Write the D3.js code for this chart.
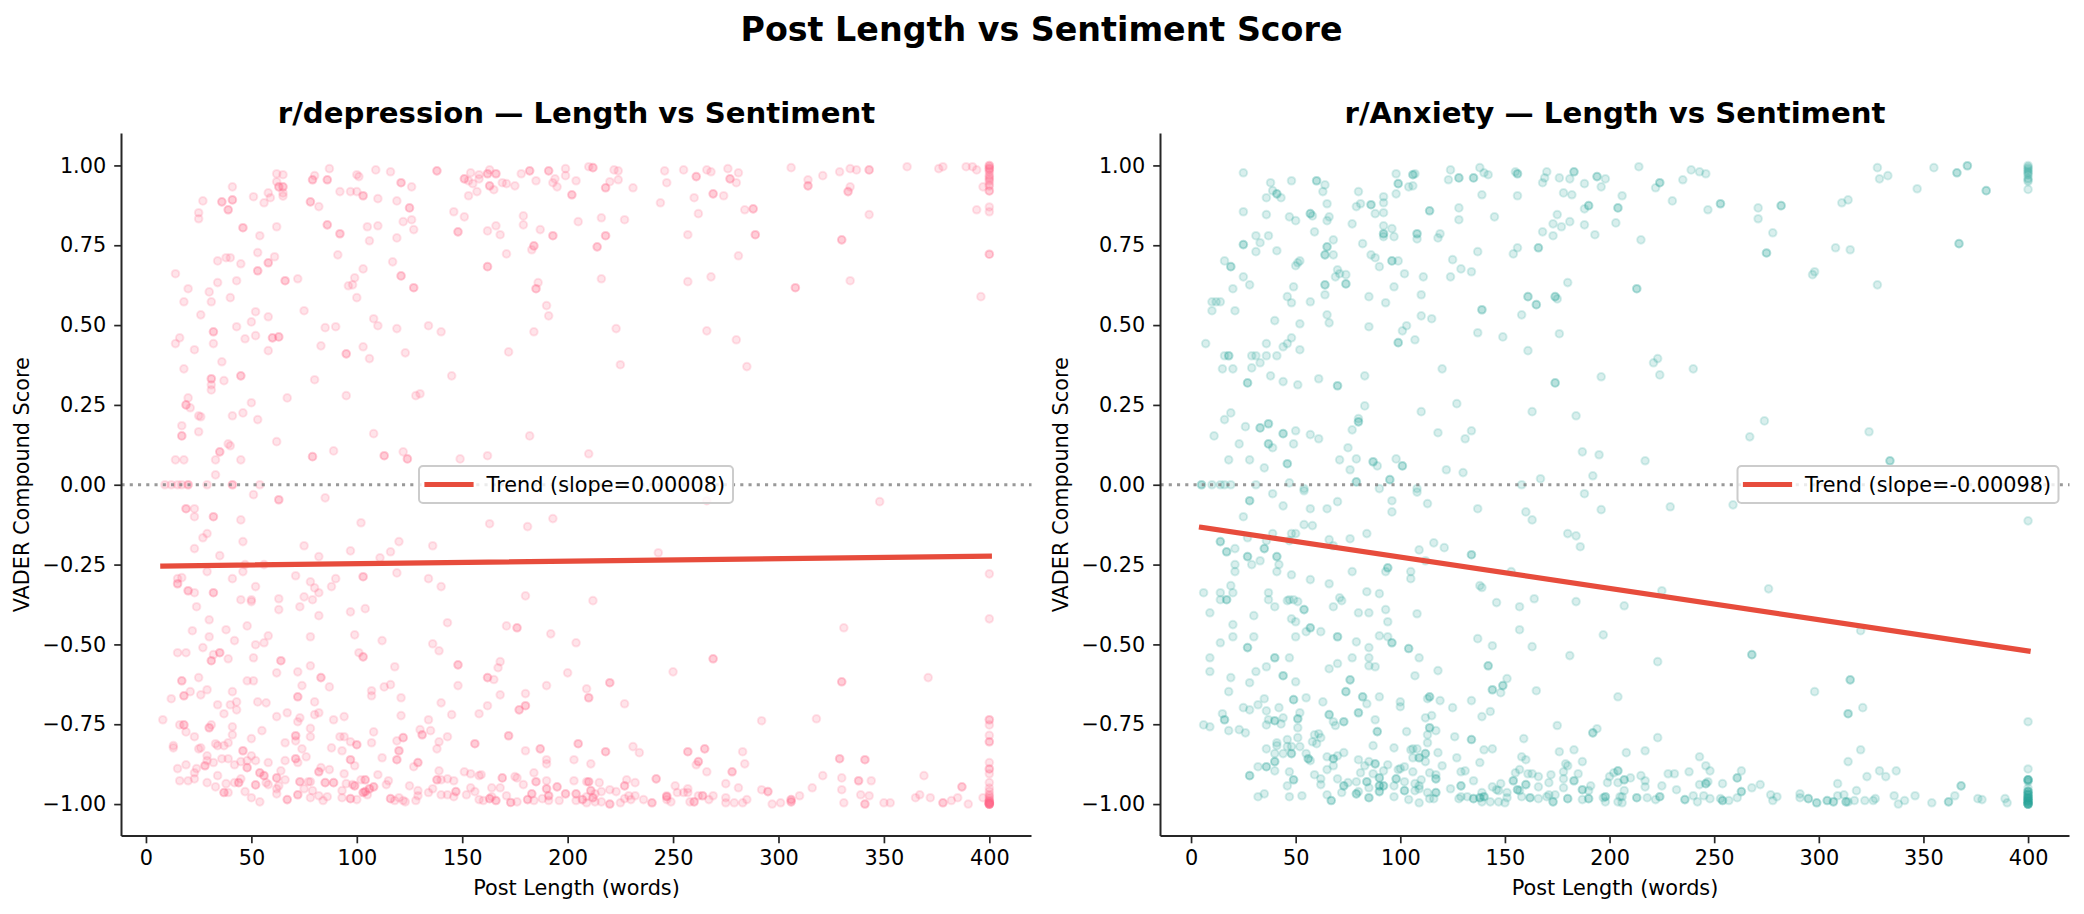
<!DOCTYPE html>
<html>
<head>
<meta charset="utf-8">
<script src="https://cdn.jsdelivr.net/npm/d3@7"></script>
<style>
  html, body { margin: 0; padding: 0; background: #fff; }
  svg { display: block; }
  text { font-family: "DejaVu Sans", sans-serif; fill: #000; }
</style>
</head>
<body>
<svg id="chart" width="2084" height="914"></svg>
<script>
// Posts as [word count, VADER compound score]; the "Doubled" lists hold posts that share a spot with a twin.
const depressionPosts = [
[62,.974],[65,.971],[87,.99],[109,.986],[116,.98],[80,.968],[100,.971],[101,.965],[126,.933],[62,.949],[41,.933],[154,.977],[153,.952],[155,.943],[158,.971],[158,.958],[163,.986],[165,.924],[169,.946],[171,.943],[175,.936],[178,.974],[185,.952],[199,.99],[199,.968],[194,.958],[193,.946],[195,.933],[204,.952],[157,.918],[153,.905],[92,.918],[97,.918],[100,.918],[110,.896],[119,.889],[82,.871],[65,.914],[65,.904],[58,.914],[59,.899],[56,.883],[51,.902],[27,.889],[25,.852],[25,.833],[54,.78],[62,.808],[105,.808],[110,.811],[106,.764],[119,.773],[122,.824],[126,.83],[127,.799],[146,.855],[151,.839],[162,.795],[166,.811],[168,.783],[179,.842],[179,.814],[187,.799],[205,.824],[183,.736],[171,.723],[186,.633],[190,.561],[191,.529],[184,.479],[172,.416],[182,.153],[162,.091],[149,.081],[145,.341],[140,.479],[134,.498],[119,.489],[110,.498],[108,.52],[90,.495],[85,.492],[75,.545],[58,.526],[52,.542],[50,.51],[43,.495],[16,.46],[14,.442],[32,.442],[47,.457],[52,.467],[23,.423],[58,.42],[83,.435],[103,.432],[106,.395],[123,.413],[36,.385],[18,.363],[31,.313],[31,.297],[37,.326],[80,.329],[95,.279],[67,.272],[50,.257],[20,.272],[21,.241],[25,.216],[26,.213],[41,.216],[46,.225],[53,.204],[17,.185],[25,.166],[39,.128],[40,.122],[62,.135],[108,.16],[128,.279],[130,.285],[89,.106],[122,.103],[14,.078],[18,.078],[33,.078],[45,.078],[33,.031],
[9,0],[12,0],[15,0],[17,0],[29,0],[54,0],
[34,.701],[38,.711],[40,.711],[45,.692],[53,.727],[61,.714],[34,.633],[43,.639],[72,.645],[14,.661],[20,.614],[30,.604],[18,.573],[31,.573],[40,.586],[26,.532],[91,.72],[103,.676],[99,.648],[96,.623],[98,.626],[100,.586],[117,.698],
[210,.996],[222,.986],[224,.983],[224,.955],[220,.949],[231,.93],[246,.983],[247,.946],[255,.986],[266,.986],[268,.98],[276,.99],[281,.977],[280,.946],[306,.993],[314,.955],[321,.968],[329,.98],[334,.99],[337,.986],[361,.996],[376,.99],[378,.996],[389,.996],[392,.996],[394,.986],[334,.933],[397,.933],
[400,1],[400,1],[400,.995],[400,.99],[400,.99],[400,.985],[400,.98],[400,.97],[400,.965],[400,.96],[400,.955],[400,.95],[400,.94],[400,.935],[400,.87],[400,.855],[394,.861],[396,.589],
[244,.883],[260,.899],[274,.905],[262,.849],[284,.861],[343,.846],[216,.836],[227,.83],[257,.783],[281,.717],[216,.645],[257,.636],[268,.651],[334,.639],[223,.489],[266,.482],[280,.454],[225,.376],[285,.37],[210,.097],
[51,-.031],[85,-.041],[23,-.075],[23,-.1],[45,-.11],[102,-.119],[163,-.122],[181,-.131],[193,-.106],[29,-.153],[27,-.166],[23,-.2],[46,-.178],[75,-.191],[120,-.178],[116,-.21],[97,-.207],[136,-.191],[35,-.222],[82,-.225],[111,-.229],[47,-.25],[56,-.25],[29,-.272],[46,-.272],[119,-.276],[15,-.294],[17,-.291],[41,-.294],[71,-.285],[78,-.304],[90,-.294],[134,-.294],[140,-.319],[88,-.319],[80,-.323],[52,-.319],[23,-.338],[82,-.338],[180,-.348],[45,-.36],[50,-.36],[50,-.366],[63,-.357],[75,-.351],[79,-.36],[24,-.382],[63,-.391],[73,-.382],[104,-.388],[97,-.398],[82,-.41],[30,-.423],[48,-.442],[143,-.432],[171,-.442],[22,-.457],[38,-.454],[30,-.476],[58,-.473],[42,-.488],[56,-.495],[52,-.501],[78,-.476],[99,-.47],[112,-.488],[192,-.467],[204,-.495],[27,-.51],[136,-.498],[139,-.52],[15,-.526],[19,-.526],[32,-.532],[39,-.545],[51,-.542],[101,-.526],[168,-.554],[167,-.573],[118,-.57],[78,-.567],[62,-.589],[72,-.586],[200,-.589],[165,-.61],[25,-.604],[48,-.614],[51,-.614],[74,-.629],[87,-.633],[148,-.629],[190,-.629],[113,-.633],[116,-.626],[29,-.642],[21,-.648],[26,-.658],[41,-.648],[107,-.645],[107,-.661],[168,-.658],[180,-.654],[121,-.667],[12,-.67],[80,-.68],[34,-.689],[40,-.689],[43,-.68],[53,-.68],[57,-.683],[140,-.683],[162,-.692],[43,-.705],[37,-.717],[67,-.714],[80,-.72],[82,-.714],[62,-.726],[94,-.726],[121,-.723],[145,-.72],[158,-.717],[8,-.736],[73,-.73],[72,-.742],[89,-.736],[134,-.736],[16,-.752],[31,-.752],[41,-.758],[55,-.77],[78,-.763],[19,-.774],[130,-.767],[135,-.77],[108,-.774],[23,-.789],[41,-.783],[50,-.795],[78,-.789],[92,-.789],[94,-.789],[143,-.789],[119,-.802],[139,-.805],[66,-.808],[71,-.802],[97,-.805],[107,-.808],[13,-.817],[13,-.824],[33,-.811],[34,-.817],[37,-.817],[39,-.808],[25,-.827],[26,-.824],[74,-.827],[88,-.824],[93,-.833],[138,-.827],[180,-.833],[29,-.849],[50,-.849],[76,-.852],[112,-.855],[190,-.861],[203,-.861],[36,-.858],[39,-.858],[29,-.864],[32,-.87],[45,-.867],[48,-.864],[52,-.864],[42,-.877],[72,-.87],[58,-.87],[66,-.864],[19,-.877],[190,-.874],[127,-.883],[99,-.88],[24,-.889],[15,-.889],[64,-.896],[83,-.886],[87,-.892],[139,-.896],[151,-.899],[154,-.905],[158,-.911],[159,-.908],[184,-.902],[23,-.902],[94,-.905],[110,-.908],[34,-.911],[175,-.914],[176,-.918],[203,-.927],[23,-.921],[16,-.927],[20,-.927],[45,-.921],[66,-.924],[102,-.924],[143,-.921],[140,-.924],[77,-.93],[78,-.93],[115,-.927],[146,-.927],[190,-.927],[29,-.933],[38,-.936],[42,-.933],[57,-.933],[95,-.936],[98,-.939],[114,-.939],[125,-.943],[179,-.939],[58,-.939],[63,-.943],[33,-.946],[62,-.952],[154,-.949],[164,-.949],[168,-.949],[75,-.952],[93,-.958],[129,-.958],[136,-.952],[156,-.961],[47,-.961],[39,-.964],[62,-.968],[79,-.958],[134,-.964],[140,-.971],[143,-.971],[146,-.977],[152,-.971],[171,-.974],[164,-.977],[82,-.974],[86,-.977],[105,-.971],[50,-.98],[78,-.98],[93,-.98],[100,-.986],[120,-.98],[129,-.974],[128,-.989],[54,-.993],[84,-.989],[118,-.989],[122,-.989],[123,-.993],[158,-.986],[160,-.989],[176,-.993],[184,-.989],[188,-.983],[191,-.989],[196,-.989],[204,-.989],
[266,-.05],[348,-.053],[243,-.213],[400,-.279],[400,-.42],[331,-.448],[212,-.363],[250,-.586],[371,-.604],[209,-.639],[227,-.686],[292,-.739],[318,-.733],
[400,-.752],[400,-.785],[400,-.87],[400,-.89],[400,-.89],[400,-.905],[400,-.933],[400,-.95],[400,-.96],[400,-.97],[400,-.975],[400,-.98],[400,-.985],[400,-.99],[400,-.99],[400,-.995],[400,-.995],[400,-1],[400,-1],[400,-1],
[231,-.82],[234,-.839],[261,-.877],[266,-.899],[283,-.836],[284,-.874],[321,-.911],[330,-.918],[344,-.927],[369,-.911],[211,-.874],[209,-.93],[215,-.933],[228,-.924],[232,-.933],[251,-.943],[216,-.961],[220,-.955],[223,-.961],[209,-.977],[213,-.968],[209,-.996],[213,-.993],[216,-.993],[225,-.996],[227,-.983],[230,-.986],[229,-.974],[232,-.974],[236,-.986],[247,-.974],[247,-.986],[249,-.993],[252,-.964],[255,-.964],[257,-.952],[257,-.964],[258,-.993],[262,-.974],[267,-.986],[269,-.974],[275,-.936],[281,-.949],[275,-.98],[275,-.996],[279,-.996],[283,-.996],[285,-.986],[292,-.955],[297,-1],[301,-.996],[310,-.974],[316,-.949],[330,-.955],[331,-.996],[339,-.971],[343,-.974],[350,-.996],[353,-.996],[365,-.98],[367,-.971],[372,-.98],[382,-.989],[385,-.98],[390,-1],[397,-.98]
];
const depressionDoubled = [
[138,.983],[79,.955],[86,.955],[121,.946],[63,.933],[65,.933],[151,.958],[162,.974],[166,.974],[163,.936],[182,.983],[191,.983],[202,.908],[103,.905],[125,.867],[78,.886],[41,.892],[36,.886],[39,.861],[46,.805],[86,.814],[92,.786],[148,.792],[193,.78],[184,.748],[162,.683],[185,.614],[32,.479],[60,.46],[63,.463],[95,.41],[31,.332],[45,.341],[19,.25],[17,.153],[35,.103],[124,.081],[113,.091],[79,.088],[20,0],[41,0],[58,.695],[53,.67],[66,.639],[121,.654],[127,.617],
[212,.993],[218,.93],[261,.965],[277,.958],[314,.936],[343,.986],[333,.918],[400,.92],[400,.722],[269,.911],[288,.864],[218,.78],[214,.745],[289,.783],[330,.767],[308,.617],
[63,-.047],[19,-.075],[32,-.1],[15,-.31],[103,-.288],[20,-.332],[32,-.338],[176,-.448],[35,-.526],[31,-.551],[64,-.551],[103,-.539],[148,-.564],[162,-.604],[83,-.604],[17,-.614],[18,-.661],[72,-.664],[180,-.692],[177,-.705],[18,-.752],[30,-.761],[71,-.786],[122,-.792],[131,-.783],[172,-.786],[100,-.814],[156,-.811],[205,-.811],[46,-.833],[120,-.833],[187,-.827],[71,-.858],[97,-.861],[119,-.861],[129,-.87],[28,-.88],[48,-.886],[54,-.902],[56,-.911],[82,-.899],[62,-.918],[169,-.918],[44,-.933],[104,-.924],[138,-.924],[73,-.93],[85,-.933],[89,-.933],[185,-.93],[99,-.943],[52,-.94],[108,-.946],[106,-.952],[190,-.952],[195,-.946],[104,-.961],[103,-.964],[147,-.961],[37,-.964],[72,-.971],[183,-.968],[199,-.968],[204,-.968],[191,-.974],[97,-.983],[116,-.983],[67,-.986],[163,-.983],[166,-.989],[173,-.995],[181,-.986],
[269,-.545],[330,-.617],[220,-.62],[210,-.667],[400,-.736],[400,-.805],[218,-.836],[257,-.836],[265,-.827],[262,-.867],[278,-.899],[329,-.858],[341,-.861],[338,-.927],[387,-.946],[210,-.93],[227,-.943],[242,-.921],[211,-.958],[212,-.98],[207,-.986],[220,-1],[240,-.996],[247,-.977],[260,-.993],[264,-.974],[295,-.961],[306,-.993],[306,-.986],[341,-1],[378,-.996],[400,-1],[400,-1],[400,-.995]
];
const anxietyPosts = [
[25,.977],[38,.946],[48,.952],[64,.939],[63,.918],[39,.921],[43,.899],[36,.899],[80,.918],[65,.88],[81,.88],[79,.871],[92,.902],[92,.883],[88,.849],[92,.852],[98,.974],[107,.974],[104,.933],[106,.936],[98,.911],[124,.986],[123,.955],[138,.993],[140,.977],[142,.971],[139,.908],[155,.98],[156,.905],[170,.98],[169,.961],[168,.946],[176,.961],[181,.958],[188,.943],[198,.958],[196,.933],[178,.914],[182,.908],[206,.905],[188,.864],[128,.867],[128,.83],[145,.839],[25,.855],[36,.846],[58,.842],[47,.839],[50,.827],[66,.839],[65,.827],[77,.817],[59,.792],[92,.811],[96,.802],[92,.777],[97,.777],[108,.77],[119,.786],[118,.773],[175,.846],[173,.817],[177,.808],[181,.824],[188,.814],[203,.82],[168,.792],[173,.78],[193,.783],[31,.78],[37,.78],[33,.758],[31,.73],[41,.733],[68,.767],[68,.72],[82,.755],[86,.72],[88,.711],[90,.683],[99,.701],[156,.742],[154,.723],[137,.73],[125,.705],[129,.676],[134,.667],[124,.651],[102,.661],[111,.651],[16,.701],[25,.651],[28,.626],[20,.614],[52,.701],[51,.695],[50,.686],[70,.673],[71,.661],[69,.651],[74,.658],[49,.62],[46,.589],[48,.57],[64,.595],[57,.573],[97,.62],[110,.595],[85,.589],[93,.57],[180,.633],[175,.582],[158,.532],[176,.473],[137,.476],[149,.463],[161,.42],[10,.573],[12,.573],[14,.573],[10,.545],[21,.545],[40,.514],[52,.504],[65,.532],[66,.507],[85,.495],[103,.498],[101,.482],[110,.529],[115,.52],[107,.454],[48,.46],[46,.442],[44,.432],[36,.442],[7,.442],[52,.423],[16,.404],[29,.404],[31,.404],[36,.404],[41,.404],[33,.382],[15,.363],[20,.363],[29,.366],[120,.363],[38,.341],[83,.341],[61,.332],[44,.323],[51,.313],[196,.338],[83,.247],[127,.254],[110,.229],[163,.229],[184,.216],[19,.225],[16,.204],[26,.182],[11,.153],[50,.169],[57,.157],[61,.144],[23,.128],[39,.116],[49,.128],[80,.207],[77,.172],[118,.163],[134,.169],[131,.144],[75,.116],[18,.078],[28,.078],[35,.053],[71,.078],[79,.081],[89,.059],[98,.081],[76,.047],[122,.047],[130,.038],[187,.103],[195,.094],[192,.028],[167,.019],[47,.006],[158,0],[10,0],[14,0],[16,0],[19,0],[31,0],[54,-.012],[90,-.012],[108,-.012],
[214,.996],[222,.93],[235,.955],[239,.986],[243,.98],[246,.974],[230,.889],[247,.861],[271,.867],[271,.833],[278,.789],[215,.767],[311,.883],[314,.892],[308,.742],[315,.736],[298,.667],[297,.658],[328,.993],[329,.958],[333,.968],[328,.626],[347,.927],[355,.993],
[400,1],[400,.995],[400,.99],[400,.985],[400,.98],[400,.975],[400,.97],[400,.96],[400,.955],[400,.95],[400,.925],
[223,.395],[221,.382],[224,.344],[240,.363],[274,.2],[267,.15],[324,.166],[217,.075],
[39,-.028],[54,-.019],[108,-.023],[188,-.028],[44,-.066],[57,-.075],[65,-.075],[70,-.053],[96,-.05],[96,-.085],[113,-.059],[137,-.075],[160,-.085],[163,-.11],[196,-.078],[25,-.1],[54,-.125],[58,-.128],[39,-.153],[48,-.153],[50,-.153],[84,-.153],[180,-.153],[184,-.16],[186,-.194],[27,-.166],[36,-.175],[47,-.175],[66,-.172],[76,-.169],[21,-.2],[68,-.191],[116,-.182],[121,-.197],[109,-.204],[33,-.238],[21,-.25],[29,-.25],[42,-.25],[21,-.272],[41,-.272],[112,-.238],[93,-.272],[105,-.272],[105,-.294],[77,-.272],[48,-.282],[57,-.297],[66,-.31],[153,-.272],[138,-.316],[139,-.322],[19,-.316],[6,-.338],[14,-.338],[20,-.338],[37,-.338],[14,-.36],[37,-.36],[84,-.335],[90,-.341],[71,-.354],[72,-.363],[164,-.357],[184,-.366],[146,-.369],[46,-.363],[47,-.36],[49,-.36],[51,-.366],[40,-.382],[157,-.382],[68,-.382],[93,-.391],[9,-.401],[80,-.401],[85,-.401],[108,-.404],[30,-.41],[48,-.42],[50,-.429],[94,-.429],[20,-.438],[157,-.454],[55,-.46],[62,-.46],[197,-.47],[20,-.476],[30,-.476],[50,-.476],[90,-.473],[94,-.476],[137,-.482],[14,-.495],[79,-.492],[144,-.504],[163,-.507],[85,-.51],[181,-.535],[9,-.542],[47,-.542],[77,-.542],[85,-.542],[109,-.542],[70,-.56],[66,-.576],[36,-.57],[85,-.567],[88,-.57],[9,-.585],[31,-.585],[118,-.582],[107,-.598],[19,-.604],[151,-.607],[50,-.617],[28,-.62],[18,-.648],[148,-.651],[165,-.645],[35,-.67],[55,-.667],[90,-.664],[113,-.67],[134,-.676],[63,-.68],[84,-.686],[100,-.68],[100,-.695],[119,-.676],[204,-.664],[32,-.689],[28,-.705],[25,-.698],[42,-.698],[36,-.708],[125,-.698],[143,-.71],[52,-.714],[15,-.717],[37,-.736],[44,-.73],[139,-.726],[112,-.73],[115,-.723],[88,-.736],[68,-.742],[69,-.754],[6,-.752],[9,-.758],[36,-.752],[43,-.749],[51,-.761],[175,-.754],[194,-.764],[18,-.77],[23,-.767],[26,-.777],[103,-.773],[117,-.77],[61,-.78],[59,-.783],[62,-.792],[113,-.783],[126,-.789],[51,-.792],[46,-.798],[159,-.795],[41,-.808],[58,-.805],[60,-.811],[113,-.808],[41,-.817],[46,-.82],[48,-.82],[52,-.82],[87,-.817],[97,-.824],[36,-.827],[105,-.83],[106,-.827],[108,-.827],[140,-.83],[144,-.827],[176,-.836],[183,-.83],[40,-.842],[44,-.842],[55,-.842],[73,-.839],[70,-.849],[65,-.852],[106,-.855],[118,-.839],[158,-.852],[160,-.861],[57,-.864],[80,-.861],[127,-.855],[85,-.867],[138,-.87],[187,-.867],[179,-.874],[180,-.88],[32,-.883],[68,-.88],[83,-.88],[94,-.877],[112,-.867],[120,-.88],[65,-.892],[40,-.896],[47,-.899],[92,-.896],[99,-.892],[100,-.889],[102,-.883],[106,-.899],[114,-.902],[129,-.899],[131,-.896],[155,-.902],[157,-.892],[161,-.905],[163,-.905],[178,-.899],[185,-.905],[172,-.908],[166,-.914],[202,-.902],[59,-.908],[81,-.902],[87,-.905],[117,-.908],[200,-.914],[62,-.921],[70,-.921],[110,-.924],[178,-.921],[102,-.93],[135,-.927],[199,-.933],[204,-.933],[75,-.933],[79,-.93],[46,-.943],[62,-.939],[85,-.949],[97,-.943],[107,-.936],[109,-.943],[124,-.952],[148,-.936],[144,-.946],[166,-.946],[171,-.933],[191,-.943],[178,-.949],[146,-.955],[190,-.958],[107,-.958],[109,-.952],[80,-.961],[72,-.964],[65,-.971],[35,-.968],[32,-.977],[47,-.977],[53,-.974],[97,-.977],[104,-.986],[109,-.996],[113,-.964],[114,-.983],[116,-.983],[128,-.983],[129,-.977],[132,-.977],[139,-.964],[139,-.993],[143,-.993],[147,-.993],[147,-.958],[151,-.964],[151,-.98],[150,-.996],[157,-.958],[158,-.977],[166,-.983],[170,-.977],[171,-.971],[174,-.971],[187,-.986],[197,-.98],[198,-.993],[204,-.993],[205,-.977],
[229,-.069],[259,-.063],[400,-.113],[225,-.332],[207,-.379],[276,-.326],[320,-.457],[223,-.554],[298,-.648],[321,-.698],[400,-.742],[223,-.792],[217,-.833],[208,-.839],[320,-.83],[243,-.852],[314,-.867],[246,-.88],[248,-.896],[263,-.896],[329,-.896],[337,-.896],[332,-.914],[323,-.914],[228,-.905],[231,-.905],[238,-.899],[215,-.911],[210,-.918],[217,-.927],[217,-.946],[225,-.943],[232,-.955],[243,-.939],[247,-.93],[254,-.936],[268,-.949],[272,-.939],[309,-.936],[318,-.958],[207,-.958],[206,-.977],[218,-.98],[222,-.986],[206,-.996],[240,-.974],[245,-.974],[242,-.993],[248,-.983],[253,-.983],[257,-.989],[261,-.98],[277,-.971],[280,-.977],[278,-.989],[291,-.968],[291,-.98],[309,-.974],[312,-.971],[314,-.993],[317,-.989],[322,-.989],[326,-.989],[327,-.983],[336,-.974],[338,-1],[341,-.989],[346,-.974],[354,-.996],[365,-.974],[376,-.983],[378,-.986],[389,-.983],[390,-.996],
[400,-.89],[400,-.93],[400,-.95],[400,-.96],[400,-.965],[400,-.97],[400,-.975],[400,-.98],[400,-.98],[400,-.985],[400,-.985],[400,-.99],[400,-.99],[400,-.995],[400,-.995],[400,-1],[400,-1],[400,-1],[400,-1]
];
const anxietyDoubled = [
[60,.952],[41,.911],[86,.877],[106,.971],[99,.943],[128,.961],[135,.961],[156,.974],[183,.98],[194,.965],[190,.874],[204,.867],[114,.858],[57,.849],[92,.786],[108,.786],[25,.752],[65,.745],[64,.72],[96,.701],[166,.742],[19,.683],[74,.629],[64,.626],[161,.589],[165,.564],[174,.589],[139,.548],[99,.445],[18,.404],[27,.319],[70,.31],[174,.319],[33,.178],[37,.191],[44,.16],[37,.128],[80,.197],[46,.066],[87,.072],[101,.059],[79,.009],[95,.016],[5,0],
[224,.946],[253,.88],[282,.874],[275,.726],[213,.614],[366,.977],[371,.999],[380,.921],[367,.755],[334,.075],
[28,-.05],[14,-.178],[17,-.21],[35,-.2],[27,-.225],[41,-.225],[134,-.219],[94,-.26],[17,-.36],[54,-.391],[57,-.448],[70,-.476],[96,-.495],[27,-.51],[104,-.513],[40,-.542],[142,-.567],[44,-.598],[76,-.611],[149,-.629],[74,-.648],[144,-.642],[49,-.673],[82,-.664],[114,-.664],[80,-.714],[66,-.72],[16,-.736],[40,-.739],[51,-.733],[73,-.742],[114,-.761],[192,-.777],[89,-.773],[134,-.798],[48,-.842],[109,-.855],[112,-.842],[56,-.858],[68,-.858],[40,-.867],[88,-.874],[36,-.883],[204,-.896],[28,-.911],[49,-.924],[90,-.918],[98,-.921],[117,-.921],[183,-.927],[154,-.927],[84,-.93],[73,-.943],[90,-.943],[92,-.943],[129,-.943],[160,-.939],[156,-.955],[187,-.955],[102,-.958],[90,-.961],[79,-.968],[67,-.989],[85,-.98],[117,-.964],[135,-.983],[138,-.98],[140,-.977],[162,-.98],[173,-.993],[180,-.983],[190,-.983],[198,-.977],
[268,-.532],[315,-.611],[314,-.717],[207,-.924],[246,-.936],[261,-.918],[263,-.961],[368,-.943],[213,-.98],[224,-.977],[236,-.986],[254,-.989],[295,-.983],[299,-.996],[304,-.989],[307,-.993],[313,-.993],[362,-.993],
[400,-.924],[400,-.924],[400,-.96],[400,-.97],[400,-.98],[400,-.99],[400,-1]
];

// Fitted trend lines as [word count, score] at each end of the data range.
const depressionTrend = [[8, -0.2545], [400, -0.2235]];
const anxietyTrend = [[5, -0.1335], [400, -0.5205]];

const xTicks = [0, 50, 100, 150, 200, 250, 300, 350, 400];
const yTicks = [-1, -0.75, -0.5, -0.25, 0, 0.25, 0.5, 0.75, 1];
const yLimits = [-1.1, 1.1];

const figureTitle = "Post Length vs Sentiment Score";
const xLabel = "Post Length (words)";
const yLabel = "VADER Compound Score";

const panels = [
  { title: "r/depression \u2014 Length vs Sentiment", legend: "Trend (slope=0.00008)", color: "#ff6b8a",
    posts: depressionPosts, doubled: depressionDoubled, trend: depressionTrend,
    xDomain: [-11.6, 420], left: 121.5, right: 1031.5, legendLeft: 419, legendRight: 733 },
  { title: "r/Anxiety \u2014 Length vs Sentiment", legend: "Trend (slope=-0.00098)", color: "#2ca89a",
    posts: anxietyPosts, doubled: anxietyDoubled, trend: anxietyTrend,
    xDomain: [-14.6, 419.8], left: 1160.5, right: 2069.5, legendLeft: 1737.5, legendRight: 2058.5 }
];

const plotTop = 133.5, plotBottom = 836;
const trendColor = "#e74c3c";
const ink = "#262626";
const svg = d3.select("#chart");

svg.append("text").attr("x", 1041.5).attr("y", 41).attr("text-anchor", "middle")
  .attr("font-size", 33.3).attr("font-weight", "bold").text(figureTitle);

panels.forEach(p => {
  const x = d3.scaleLinear().domain(p.xDomain).range([p.left, p.right]);
  const y = d3.scaleLinear().domain(yLimits).range([plotBottom, plotTop]);
  const g = svg.append("g");

  // Scatter: fill and edge each carry their own transparency, so the overlap reads as a ring.
  g.append("g").selectAll("circle")
    .data(p.posts.concat(p.doubled, p.doubled))
    .join("circle")
    .attr("cx", d => x(d[0])).attr("cy", d => y(d[1])).attr("r", 3.8)
    .attr("fill", p.color).attr("fill-opacity", 0.18)
    .attr("stroke", p.color).attr("stroke-opacity", 0.18).attr("stroke-width", 2);

  // Zero reference line
  g.append("line")
    .attr("x1", p.left).attr("x2", p.right).attr("y1", y(0)).attr("y2", y(0))
    .attr("stroke", "#808080").attr("stroke-opacity", 0.8)
    .attr("stroke-width", 3.1).attr("stroke-dasharray", "3.1 5.15");

  // Trend line
  g.append("path")
    .attr("d", d3.line().x(d => x(d[0])).y(d => y(d[1]))(p.trend))
    .attr("fill", "none").attr("stroke", trendColor)
    .attr("stroke-width", 5.2).attr("stroke-linecap", "square");

  // Axes: only left and bottom spines are shown
  const xAxis = g.append("g").attr("transform", `translate(0,${plotBottom})`)
    .call(d3.axisBottom(x).tickValues(xTicks).tickSize(7.3).tickPadding(7.3).tickFormat(d3.format("d")));
  const yAxis = g.append("g").attr("transform", `translate(${p.left},0)`)
    .call(d3.axisLeft(y).tickValues(yTicks).tickSize(7.3).tickPadding(8).tickFormat(d3.format(".2f")));
  [xAxis, yAxis].forEach(a => {
    a.selectAll(".domain").attr("stroke", ink).attr("stroke-width", 2).attr("d",
      a === xAxis ? `M${p.left},0H${p.right}` : `M0,${plotTop}V${plotBottom}`);
    a.selectAll(".tick line").attr("stroke", ink).attr("stroke-width", 1.7);
    a.selectAll(".tick text").attr("font-size", 20.8).attr("font-family", '"DejaVu Sans", sans-serif').attr("fill", "#000");
  });

  g.append("text").attr("x", (p.left + p.right) / 2).attr("y", 895).attr("text-anchor", "middle")
    .attr("font-size", 20.8).text(xLabel);
  g.append("text")
    .attr("transform", `translate(${p.left - 93},${(plotTop + plotBottom) / 2}) rotate(-90)`)
    .attr("text-anchor", "middle").attr("font-size", 20.8).text(yLabel);
  g.append("text").attr("x", (p.left + p.right) / 2).attr("y", 123).attr("text-anchor", "middle")
    .attr("font-size", 29.17).attr("font-weight", "bold").text(p.title);

  // Legend
  const lg = g.append("g");
  lg.append("rect")
    .attr("x", p.legendLeft).attr("y", 466)
    .attr("width", p.legendRight - p.legendLeft).attr("height", 37).attr("rx", 4)
    .attr("fill", "#fff").attr("fill-opacity", 0.8)
    .attr("stroke", "#cccccc").attr("stroke-width", 2);
  lg.append("line")
    .attr("x1", p.legendLeft + 8).attr("x2", p.legendLeft + 52)
    .attr("y1", 484.5).attr("y2", 484.5)
    .attr("stroke", trendColor).attr("stroke-width", 5.2).attr("stroke-linecap", "square");
  lg.append("text").attr("x", p.legendLeft + 67.5).attr("y", 491.5)
    .attr("font-size", 20.8).text(p.legend);
});
</script>
</body>
</html>
